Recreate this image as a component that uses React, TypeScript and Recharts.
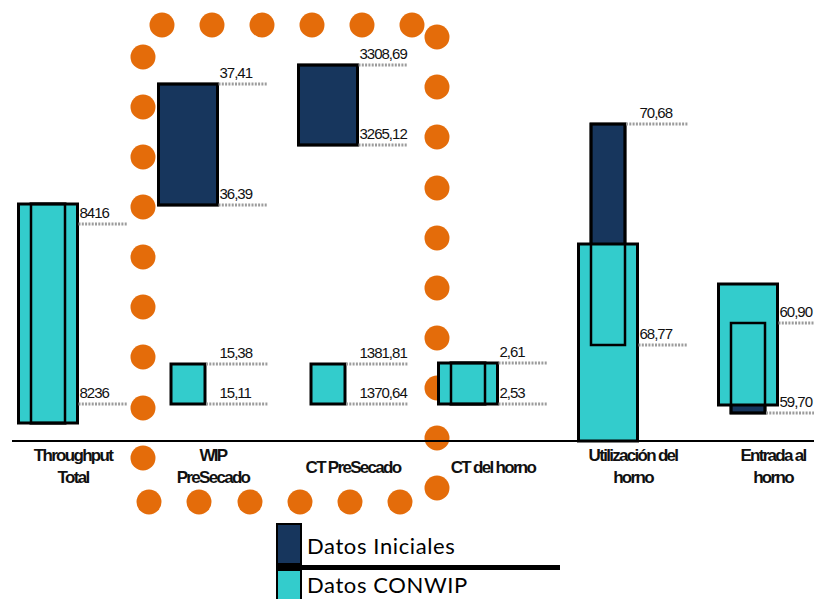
import { BarChart, Bar, XAxis, YAxis, Legend } from 'recharts';

// each category has its own scale in the original, so bars are placed on a 0-100 "position" scale
const categories = ['Throughput\nTotal', 'WIP\nPreSecado', 'CT PreSecado', 'CT del horno', 'Utilización del\nhorno', 'Entrada al\nhorno'];
const seriesNames = ['Datos Iniciales', 'Datos CONWIP'];

const iniLow = [4.5, 59, 74, 9.25, 24, 7];
const iniHigh = [59.25, 89.25, 94, 19.5, 79.25, 29.5];
const conLow = [4.5, 9.25, 9.25, 9.25, 0, 9];
const conHigh = [59.25, 19.25, 19.25, 19.5, 49.25, 39.25];
const iniIsWide = [false, true, true, false, false, false];

// value labels
const iniTopValue = [null, 37.41, 3308.69, null, 70.68, 60.9];
const iniBottomValue = [null, 36.39, 3265.12, null, 68.77, 59.7];
const conTopValue = [8416, 15.38, 1381.81, 2.61, null, null];
const conBottomValue = [8236, 15.11, 1370.64, 2.53, null, null];
const conTopAt = [54.25, 19.25, 19.25, 19.5, null, null];
const conBottomAt = [9.25, 9.25, 9.25, 9.25, null, null];

// decorative ring of orange dots
const ringDots: [number, number][] = [
  [162, 25], [212, 25], [262, 25], [312, 25], [362, 25], [412, 25],
  [437, 37], [437, 87], [437, 137], [437, 188], [437, 238], [437, 288], [437, 338], [437, 388], [437, 438], [437, 488],
  [143, 57], [143, 107], [143, 157], [143, 207], [143, 257], [143, 307], [143, 357], [143, 408], [143, 458],
  [149, 502], [199, 502], [250, 502], [300, 502], [350, 502], [400, 502],
];

const NAVY = '#17365D';
const CYAN = '#33CCCC';
const WIDE = 59;
const NARROW = 34;

const fmt = (v: number) => (Number.isInteger(v) ? String(v) : v.toFixed(2).replace('.', ','));

const data = categories.map((name, i) => ({
  name,
  ini: [iniLow[i], iniHigh[i]],
  con: [conLow[i], conHigh[i]],
  iniHalf: (iniIsWide[i] ? WIDE : NARROW) / 2,
  conHalf: (iniIsWide[i] ? NARROW : WIDE) / 2,
  iniMark: iniTopValue[i] != null ? [iniLow[i], iniHigh[i]] : null,
  iniMarkText: iniTopValue[i] != null ? [fmt(iniBottomValue[i] as number), fmt(iniTopValue[i] as number)] : null,
  conMark: conTopValue[i] != null ? [conBottomAt[i], conTopAt[i]] : null,
  conMarkText: conTopValue[i] != null ? [fmt(conBottomValue[i] as number), fmt(conTopValue[i] as number)] : null,
}));

function coverHalf(p: any, v: number) {
  let half = NARROW / 2;
  if (v >= p.ini[0] - 0.01 && v <= p.ini[1] + 0.01) half = Math.max(half, p.iniHalf);
  if (v >= p.con[0] - 0.01 && v <= p.con[1] + 0.01) half = Math.max(half, p.conHalf);
  return half;
}

const boxShape = (series: 'ini' | 'con', fill: string, sw: number) => (props: any) => {
  const { x, y, width, height, payload } = props;
  const half = payload[series + 'Half'];
  const cx = x + width / 2;
  const top = Math.min(y, y + height);
  return <rect x={cx - half} y={top} width={half * 2} height={Math.abs(height)} fill={fill} stroke="#000" strokeWidth={sw} />;
};

const markShape = (key: 'iniMark' | 'conMark') => (props: any) => {
  const { x, y, width, height, payload } = props;
  const m = payload[key];
  const texts = payload[key + 'Text'];
  if (!m || !texts) return <g />;
  const cx = x + width / 2;
  const wideEdge = cx + WIDE / 2;
  const rows = [
    { v: m[1], py: Math.min(y, y + height), t: texts[1] },
    { v: m[0], py: Math.max(y, y + height), t: texts[0] },
  ];
  return (
    <g>
      {rows.map((r, i) => (
        <g key={i}>
          <line x1={cx + coverHalf(payload, r.v) + 1} x2={wideEdge + 50} y1={r.py} y2={r.py} stroke="#9c9c9c" strokeWidth={3} strokeDasharray="2 1.3" />
          <text x={wideEdge + 2} y={r.py - 6} fontFamily="Liberation Sans, Arial" fontSize={15} letterSpacing={-1} fill="#111">
            {r.t}
          </text>
        </g>
      ))}
    </g>
  );
};

const CategoryTick = (props: any) => {
  const { x, y, payload } = props;
  const lines = String(payload.value).split('\n');
  const base = lines.length > 1 ? 20 : 32;
  return (
    <text textAnchor="middle" fontFamily="Liberation Sans, Arial" fontWeight={700} fontSize={17} letterSpacing={-1.7} fill="#111">
      {lines.map((l, i) => (
        <tspan key={i} x={x + 25} y={y + base + i * 22}>{l}</tspan>
      ))}
    </text>
  );
};

const renderLegend = (props: any) => {
  const items = (props.payload || [])
    .filter((p: any) => seriesNames.includes(p.value))
    .sort((a: any, b: any) => seriesNames.indexOf(a.value) - seriesNames.indexOf(b.value));
  const rowTop = [524, 570];
  const baseline = [554, 593];
  return (
    <svg width={814} height={599} style={{ position: 'absolute', left: 0, top: 0 }}>
      {items.map((it: any, i: number) => (
        <g key={it.value}>
          <rect x={277} y={rowTop[i]} width={24} height={40} fill={it.color} stroke="#000" strokeWidth={2} />
          <text x={307} y={baseline[i]} fontFamily="Lato, 'Open Sans', sans-serif" fontSize={22} letterSpacing={0.6} fill="#000">{it.value}</text>
        </g>
      ))}
      <rect x={276} y={565} width={284} height={5} fill="#000" />
    </svg>
  );
};

const pad = { left: -34, right: -4 };

export default function App() {
  return (
    <div style={{ position: 'absolute', left: 0, top: 0, width: 814, height: 599, overflow: 'hidden', background: '#fff' }}>
      <BarChart width={814} height={599} data={data} margin={{ top: 41, right: 0, left: 12, bottom: 98 }}>
        <XAxis xAxisId="a" dataKey="name" padding={pad} height={60} tickLine={false} tickSize={0} tickMargin={0}
          axisLine={{ stroke: '#000', strokeWidth: 2 }} tick={<CategoryTick />} interval={0} />
        <XAxis xAxisId="b" dataKey="name" padding={pad} hide />
        <XAxis xAxisId="c" dataKey="name" padding={pad} hide />
        <XAxis xAxisId="d" dataKey="name" padding={pad} hide />
        <XAxis xAxisId="e" dataKey="name" padding={pad} hide />
        <YAxis hide domain={[0, 100]} />
        <Bar xAxisId="a" dataKey="ini" name={seriesNames[0]} fill={NAVY} shape={boxShape('ini', NAVY, 3)} isAnimationActive={false} />
        <Bar xAxisId="b" dataKey="con" name={seriesNames[1]} fill={CYAN} shape={boxShape('con', CYAN, 3)} isAnimationActive={false} />
        <Bar xAxisId="c" dataKey="ini" legendType="none" fill="none" shape={boxShape('ini', 'none', 2.5)} isAnimationActive={false} />
        <Bar xAxisId="d" dataKey="iniMark" legendType="none" fill="none" shape={markShape('iniMark')} isAnimationActive={false} />
        <Bar xAxisId="e" dataKey="conMark" legendType="none" fill="none" shape={markShape('conMark')} isAnimationActive={false} />
        <Legend layout="horizontal" verticalAlign="middle" align="center" content={renderLegend}
          wrapperStyle={{ left: 0, top: 0, width: 814, height: 599 }} />
        <g>
          {ringDots.map(([cx, cy], i) => (
            <circle key={i} cx={cx} cy={cy} r={12.5} fill="#E46C0A" />
          ))}
        </g>
      </BarChart>
    </div>
  );
}
